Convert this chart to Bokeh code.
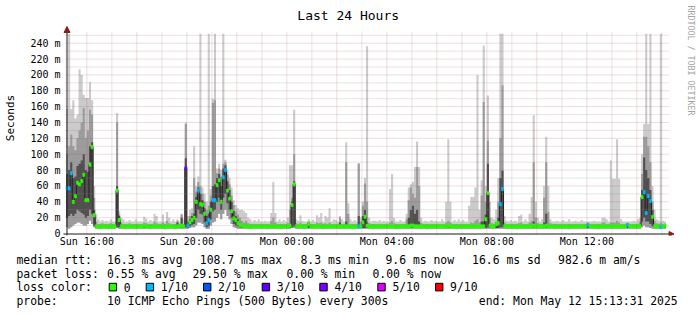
import numpy as np
import pandas as pd
from bokeh.plotting import figure
from bokeh.layouts import column, row
from bokeh.models import (Range1d, FixedTicker, DatetimeTickFormatter, CustomJSTickFormatter,
                          Label, ColumnDataSource, Arrow, NormalHead)
from bokeh.embed import file_html
from bokeh.resources import INLINE

# ---------------------------------------------------------------- data
# 5-minute steps, one row per hour (first row 15:10-15:55, last row 15:00-15:05)
FIRST_STEP = "2025-05-11 15:10:00"
STEP_MINUTES = 5
GRAPH_START = "2025-05-11 15:13:31"
GRAPH_END = "2025-05-12 15:13:31"

MEDIAN_MS = [
    [57, 57, 76, 40, 47, 64, 62, 66, 74, 42],
    [42, 87, 109, 23, 9, 9, 8, 9, 9, 9, 8, 9],
    [9, 9, 54, 17, 9, 9, 8, 9, 9, 9, 9, 8],
    [9, 9, 9, 10, 9, 9, 8, 9, 9, 9, 9, 9],
    [9, 8, 9, 9, 9, 9, 8, 9, 9, 10, 9, 82],
    [10, 14, 17, 20, 40, 54, 37, 36, 25, 13, 17, 30],
    [42, 42, 61, 67, 40, 71, 80, 54, 44, 28, 19, 17],
    [13, 11, 10, 9, 9, 9, 8, 9, 9, 9, 9, 9],
    [9, 9, 8, 9, 9, 9, 9, 9, 9, 8, 9, 9],
    [9, 10, 36, 62, 9, 9, 9, 9, 8, 9, 12, 9],
    [9, 9, 9, 9, 9, 8, 9, 9, 9, 9, 9, 9],
    [9, 9, 9, 9, 9, 9, 9, 8, 9, 9, 9, 9],
    [14, 21, 10, 9, 9, 8, 9, 9, 9, 9, 9, 9],
    [9, 9, 9, 9, 8, 9, 9, 9, 9, 9, 9, 10],
    [10, 9, 9, 9, 9, 9, 9, 8, 9, 9, 9, 9],
    [9, 9, 9, 9, 9, 10, 9, 9, 9, 8, 9, 9],
    [9, 9, 9, 9, 9, 9, 9, 9, 9, 9, 9, 18],
    [51, 10, 9, 9, 12, 13, 37, 56, 9, 9, 9, 9],
    [9, 9, 8, 9, 9, 9, 9, 9, 9, 9, 10, 9],
    [9, 9, 9, 9, 10, 9, 9, 9, 8, 9, 9, 9],
    [9, 9, 9, 8, 9, 9, 9, 9, 9, 9, 9, 9],
    [11, 9, 9, 9, 9, 8, 9, 9, 9, 9, 9, 9],
    [9, 9, 9, 9, 9, 9, 9, 11, 9, 9, 9, 9],
    [9, 9, 46, 52, 26, 47, 41, 21, 9, 9, 9, 8],
    [9, 10],
]

LOSS_OF_10 = [
    [1, 1, 1, 0, 0, 0, 0, 0, 0, 0],
    [0, 0, 0, 0, 0, 0, 0, 0, 0, 0, 0, 0],
    [0, 0, 0, 0, 0, 0, 0, 0, 0, 0, 0, 0],
    [0, 0, 0, 0, 0, 0, 0, 0, 0, 0, 0, 0],
    [0, 0, 0, 0, 0, 0, 0, 0, 0, 0, 0, 3],
    [1, 0, 0, 0, 0, 1, 0, 0, 0, 1, 1, 0],
    [1, 1, 0, 0, 0, 1, 1, 0, 0, 0, 0, 0],
    [0, 0, 0, 0, 0, 0, 0, 0, 0, 0, 0, 0],
    [0, 0, 0, 0, 0, 0, 0, 0, 0, 0, 0, 0],
    [0, 0, 0, 0, 0, 0, 0, 0, 0, 0, 0, 0],
    [0, 0, 0, 0, 0, 0, 0, 0, 0, 0, 0, 0],
    [0, 0, 0, 0, 0, 0, 0, 0, 0, 0, 1, 0],
    [0, 0, 0, 0, 0, 0, 0, 0, 0, 0, 0, 0],
    [0, 0, 0, 0, 0, 0, 0, 0, 0, 0, 0, 0],
    [0, 0, 0, 0, 0, 0, 0, 0, 0, 0, 0, 0],
    [0, 0, 0, 0, 0, 0, 0, 0, 0, 0, 0, 0],
    [0, 0, 0, 0, 0, 0, 0, 0, 0, 0, 0, 0],
    [0, 0, 0, 0, 0, 0, 1, 1, 0, 0, 0, 0],
    [0, 0, 0, 0, 0, 0, 0, 0, 0, 0, 0, 0],
    [0, 0, 0, 0, 0, 0, 0, 0, 0, 0, 0, 0],
    [0, 0, 0, 0, 0, 0, 0, 0, 0, 0, 0, 0],
    [1, 0, 0, 0, 0, 0, 0, 0, 0, 0, 0, 0],
    [0, 0, 0, 0, 0, 0, 0, 1, 0, 0, 0, 0],
    [0, 0, 0, 1, 1, 1, 1, 0, 0, 0, 0, 1],
    [0, 0],
]

SMOKE_MIN = [
    [8, 6, 8, 10, 12, 14, 14, 12, 10, 10],
    [12, 16, 12, 8, 6, 6, 6, 6, 6, 6, 6, 6],
    [6, 6, 7, 6, 6, 6, 6, 6, 6, 6, 6, 6],
    [6, 6, 6, 6, 6, 6, 6, 6, 6, 6, 6, 6],
    [6, 6, 6, 6, 6, 6, 6, 6, 6, 6, 6, 6],
    [6, 7, 8, 8, 10, 14, 14, 12, 8, 6, 6, 10],
    [14, 15, 20, 25, 18, 25, 30, 22, 18, 12, 8, 7],
    [6, 6, 6, 6, 6, 6, 6, 6, 6, 6, 6, 6],
    [6, 6, 6, 6, 6, 6, 6, 6, 6, 6, 6, 6],
    [6, 6, 7, 7, 6, 6, 6, 6, 6, 6, 6, 6],
    [6, 6, 6, 6, 6, 6, 6, 6, 6, 6, 6, 6],
    [6, 6, 6, 6, 6, 6, 6, 6, 6, 6, 6, 6],
    [6, 6, 6, 6, 6, 6, 6, 6, 6, 6, 6, 6],
    [6, 6, 6, 6, 6, 6, 6, 6, 6, 6, 6, 6],
    [6, 6, 6, 6, 6, 6, 6, 6, 6, 6, 6, 6],
    [6, 6, 6, 6, 6, 6, 6, 6, 6, 6, 6, 6],
    [6, 6, 6, 6, 6, 6, 6, 6, 6, 6, 6, 6],
    [6, 6, 6, 6, 6, 6, 6, 6, 6, 6, 6, 6],
    [6, 6, 6, 6, 6, 6, 6, 6, 6, 6, 6, 6],
    [6, 6, 6, 6, 6, 6, 6, 6, 6, 6, 6, 6],
    [6, 6, 6, 6, 6, 6, 6, 6, 6, 6, 6, 6],
    [6, 6, 6, 6, 6, 6, 6, 6, 6, 6, 6, 6],
    [6, 6, 6, 6, 6, 6, 6, 6, 6, 6, 6, 6],
    [6, 6, 8, 10, 8, 8, 7, 6, 6, 6, 6, 6],
    [6, 6],
]

DARK_LO = [
    [20, 22, 25, 22, 25, 30, 28, 26, 24, 20],
    [22, 30, 25, 10, 7, 7, 7, 7, 7, 7, 7, 7],
    [7, 7, 8, 8, 7, 7, 7, 7, 7, 7, 7, 7],
    [7, 7, 7, 7, 7, 7, 7, 7, 7, 7, 7, 7],
    [7, 7, 7, 7, 7, 7, 7, 7, 7, 7, 7, 8],
    [7, 9, 11, 12, 20, 30, 25, 24, 14, 8, 9, 18],
    [28, 30, 40, 45, 30, 45, 50, 38, 30, 20, 12, 10],
    [9, 8, 7, 7, 7, 7, 7, 7, 7, 7, 7, 7],
    [7, 7, 7, 7, 7, 7, 7, 7, 7, 7, 7, 7],
    [7, 7, 8, 9, 7, 7, 7, 7, 7, 7, 7, 7],
    [7, 7, 7, 7, 7, 7, 7, 7, 7, 7, 7, 7],
    [7, 7, 7, 7, 7, 7, 7, 7, 7, 7, 7, 7],
    [7, 7, 7, 7, 7, 7, 7, 7, 7, 7, 7, 7],
    [7, 7, 7, 7, 7, 7, 7, 7, 7, 7, 7, 7],
    [7, 7, 7, 7, 7, 7, 7, 7, 7, 7, 7, 7],
    [7, 7, 7, 7, 7, 7, 7, 7, 7, 7, 7, 7],
    [7, 7, 7, 7, 7, 7, 7, 7, 7, 7, 7, 7],
    [8, 7, 7, 7, 7, 7, 8, 8, 7, 7, 7, 7],
    [7, 7, 7, 7, 7, 7, 7, 7, 7, 7, 7, 7],
    [7, 7, 7, 7, 7, 7, 7, 7, 7, 7, 7, 7],
    [7, 7, 7, 7, 7, 7, 7, 7, 7, 7, 7, 7],
    [7, 7, 7, 7, 7, 7, 7, 7, 7, 7, 7, 7],
    [7, 7, 7, 7, 7, 7, 7, 7, 7, 7, 7, 7],
    [7, 7, 15, 20, 15, 15, 12, 9, 7, 7, 7, 7],
    [7, 7],
]

DARK_TOP = [
    [75, 80, 90, 70, 72, 85, 88, 92, 100, 80],
    [78, 110, 115, 30, 10, 10, 10, 10, 10, 10, 10, 10],
    [10, 10, 60, 22, 10, 10, 10, 10, 10, 10, 10, 10],
    [10, 10, 10, 10, 10, 10, 10, 10, 10, 10, 10, 10],
    [10, 10, 10, 10, 10, 10, 10, 14, 10, 20, 10, 95],
    [13, 18, 22, 25, 46, 58, 50, 42, 32, 22, 25, 40],
    [60, 62, 70, 75, 60, 82, 86, 66, 55, 40, 28, 22],
    [18, 14, 12, 11, 10, 10, 10, 10, 10, 10, 10, 10],
    [10, 10, 10, 10, 10, 10, 10, 10, 10, 10, 10, 10],
    [10, 12, 40, 66, 10, 10, 10, 10, 10, 10, 14, 10],
    [10, 10, 10, 10, 10, 10, 10, 10, 10, 10, 10, 10],
    [10, 14, 10, 10, 15, 10, 10, 10, 10, 10, 22, 10],
    [22, 30, 14, 10, 10, 10, 10, 10, 10, 10, 10, 10],
    [10, 10, 10, 10, 10, 10, 10, 10, 10, 10, 20, 30],
    [35, 25, 30, 15, 10, 10, 10, 10, 10, 10, 10, 10],
    [10, 10, 10, 10, 10, 10, 10, 10, 10, 10, 10, 10],
    [10, 10, 10, 10, 10, 10, 10, 10, 10, 15, 15, 24],
    [88, 12, 10, 10, 14, 20, 70, 79, 10, 10, 10, 10],
    [10, 10, 10, 10, 10, 10, 10, 10, 10, 10, 15, 10],
    [10, 10, 10, 14, 25, 10, 10, 10, 10, 10, 10, 10],
    [10, 10, 10, 10, 10, 10, 10, 10, 10, 10, 10, 10],
    [10, 10, 10, 10, 10, 10, 10, 10, 10, 10, 10, 10],
    [10, 10, 10, 10, 10, 10, 10, 10, 10, 10, 10, 10],
    [10, 10, 55, 96, 80, 70, 55, 30, 10, 10, 10, 10],
    [10, 10],
]

MID_TOP = [
    [100, 110, 125, 110, 105, 120, 130, 140, 158, 120],
    [130, 156, 150, 45, 15, 12, 12, 13, 12, 12, 12, 13],
    [12, 12, 140, 24, 14, 12, 12, 12, 13, 12, 12, 12],
    [12, 12, 12, 14, 13, 12, 12, 12, 15, 13, 12, 12],
    [14, 12, 16, 13, 12, 12, 12, 16, 12, 24, 12, 138],
    [16, 22, 26, 70, 52, 65, 60, 50, 40, 30, 35, 48],
    [165, 168, 76, 82, 72, 88, 90, 74, 62, 48, 36, 28],
    [24, 20, 16, 14, 16, 13, 12, 12, 12, 12, 12, 12],
    [12, 12, 12, 12, 16, 20, 14, 12, 12, 12, 12, 12],
    [13, 30, 45, 100, 13, 12, 14, 12, 12, 12, 15, 12],
    [12, 12, 14, 13, 14, 12, 13, 12, 14, 12, 12, 12],
    [12, 20, 12, 12, 90, 25, 12, 12, 12, 12, 88, 15],
    [35, 63, 40, 13, 12, 12, 12, 12, 12, 12, 12, 12],
    [12, 14, 16, 13, 12, 12, 12, 12, 12, 18, 42, 58],
    [50, 45, 84, 60, 13, 12, 12, 12, 12, 12, 12, 12],
    [12, 12, 12, 12, 14, 16, 14, 12, 12, 12, 12, 12],
    [12, 12, 12, 12, 14, 13, 16, 18, 14, 48, 166, 40],
    [117, 20, 13, 12, 15, 40, 120, 187, 14, 12, 12, 12],
    [12, 12, 12, 13, 14, 12, 12, 12, 14, 16, 90, 20],
    [13, 12, 12, 45, 90, 27, 13, 12, 12, 12, 12, 12],
    [12, 12, 12, 12, 12, 12, 12, 12, 12, 12, 12, 12],
    [12, 12, 12, 12, 12, 12, 12, 14, 14, 12, 12, 14],
    [14, 14, 16, 14, 12, 12, 12, 12, 12, 12, 12, 12],
    [12, 15, 75, 122, 122, 110, 90, 40, 16, 13, 12, 14],
    [12, 12],
]

SMOKE_MAX = [
    [157, 252, 157, 168, 145, 150, 207, 200, 175, 171],
    [171, 191, 168, 60, 25, 18, 15, 17, 15, 16, 15, 18],
    [15, 15, 152, 28, 20, 18, 15, 15, 17, 15, 15, 18],
    [15, 15, 15, 21, 19, 15, 17, 15, 25, 22, 15, 15],
    [24, 15, 27, 20, 15, 18, 15, 18, 15, 25, 18, 140],
    [22, 30, 32, 110, 60, 72, 252, 58, 50, 40, 252, 56],
    [170, 252, 82, 88, 80, 252, 93, 80, 70, 58, 42, 36],
    [32, 30, 30, 28, 26, 20, 18, 15, 17, 15, 18, 15],
    [15, 16, 15, 15, 26, 65, 26, 15, 18, 15, 17, 15],
    [20, 86, 86, 156, 18, 16, 23, 16, 15, 15, 18, 15],
    [17, 15, 23, 20, 26, 15, 22, 20, 32, 15, 18, 17],
    [15, 22, 18, 15, 115, 38, 18, 15, 17, 15, 89, 20],
    [40, 70, 236, 20, 15, 16, 16, 15, 17, 15, 16, 15],
    [15, 56, 75, 20, 15, 15, 17, 15, 15, 25, 58, 62],
    [65, 84, 116, 84, 20, 15, 16, 15, 15, 17, 15, 16],
    [15, 15, 18, 15, 40, 119, 40, 15, 17, 15, 18, 15],
    [17, 15, 15, 35, 46, 46, 58, 200, 30, 67, 237, 60],
    [174, 40, 20, 18, 30, 70, 252, 252, 22, 16, 15, 17],
    [15, 16, 15, 22, 24, 15, 18, 15, 25, 46, 149, 40],
    [20, 15, 18, 60, 122, 60, 18, 15, 15, 16, 15, 15],
    [17, 15, 15, 18, 15, 15, 16, 15, 15, 17, 15, 15],
    [15, 15, 15, 16, 15, 15, 15, 20, 20, 18, 15, 92],
    [69, 69, 119, 69, 18, 15, 15, 15, 15, 15, 16, 15],
    [18, 20, 100, 138, 252, 138, 252, 60, 30, 18, 16, 252],
    [16, 15],
]

X_TICK_TIMES = ["2025-05-11 16:00", "2025-05-11 20:00", "2025-05-12 00:00",
                "2025-05-12 04:00", "2025-05-12 08:00", "2025-05-12 12:00"]
Y_TICKS = [0, 20, 40, 60, 80, 100, 120, 140, 160, 180, 200, 220, 240]
Y_MINOR = [10, 30, 50, 70, 90, 110, 130, 150, 170, 190, 210, 230, 250]

LOSS_LEVELS = [0, 1, 2, 3, 4, 5, 9]
LOSS_LABELS = ["0", "1/10", "2/10", "3/10", "4/10", "5/10", "9/10"]
LOSS_COLORS = ["#26ff00", "#00b8ff", "#0059ff", "#5e00ff", "#7e00ff", "#dd00ff", "#ff0000"]

TITLE = "Last 24 Hours"
Y_LABEL = "Seconds"
WATERMARK = "RRDTOOL / TOBI OETIKER"
RTT_HEAD = "median rtt:"
RTT_STATS = ["16.3 ms avg", "108.7 ms max", "8.3 ms min", "9.6 ms now", "16.6 ms sd", "982.6 m am/s"]
LOSS_HEAD = "packet loss:"
LOSS_STATS = ["0.55 % avg", "29.50 % max", "0.00 % min", "0.00 % now"]
COLOR_HEAD = "loss color:"
PROBE_HEAD = "probe:"
PROBE_TEXT = "10 ICMP Echo Pings (500 Bytes) every 300s"
END_TEXT = "end: Mon May 12 15:13:31 2025"

# ---------------------------------------------------------------- layout constants
W, H = 697, 315
MAIN_H = 252                               # chart canvas height; legend block below
FL, FR, FT, FB = 62, 697, 0, 235           # main frame edges (canvas px)
AX_X, AX_Y = 67, 233                       # where time / value axes sit
PX_PER_MS_Y = 190.3 / 240.0                # vertical pixels per ms of rtt
MONO = "DejaVu Sans Mono"
LIGHT, MID, DARK, MEDLINE = "#cbcbcb", "#9c9c9c", "#505050", "#202020"
MGRID, GRID, AXIS, ARROW = "#b04848", "#8c8c8c", "#1a1a1a", "#8c1c1c"
SQ = 2.1                                    # half height of the loss-coloured median marker
TEXT_DY = 4.0                               # Label baseline correction (px)


def flat(rows):
    return [v for r in rows for v in r]


med, loss = flat(MEDIAN_MS), flat(LOSS_OF_10)
lo, dlo, dtop, mtop, hi = (flat(SMOKE_MIN), flat(DARK_LO), flat(DARK_TOP),
                           flat(MID_TOP), flat(SMOKE_MAX))
n = len(med)
assert all(len(a) == n for a in (loss, lo, dlo, dtop, mtop, hi)), "length mismatch"


def ms(ts):
    return pd.Timestamp(ts).value // 10**6


X0, X_END = ms(GRAPH_START), ms(GRAPH_END)
PX_PER_MS_X = 600.0 / (X_END - X0)


def cx(px):
    return X0 + (px - AX_X) / PX_PER_MS_X


def cy(py):
    return (AX_Y - py) / PX_PER_MS_Y


step_ms = STEP_MINUTES * 60 * 1000
edges = ms(FIRST_STEP) + step_ms * np.arange(n + 1)


def ext(a):
    return list(a) + [a[-1]]


smoke = ColumnDataSource(dict(x=edges, lo=ext(lo), hi=ext(hi), mtop=ext(mtop),
                              dlo=ext(dlo), dtop=ext(dtop), med=ext(med)))
color_of = dict(zip(LOSS_LEVELS, LOSS_COLORS))


def loss_color(l):
    return color_of[max(v for v in LOSS_LEVELS if v <= l)]


marks = ColumnDataSource(dict(
    left=edges[:-1], right=edges[1:],
    bottom=[m - SQ for m in med], top=[m + SQ for m in med],
    color=[loss_color(l) for l in loss]))

# ---------------------------------------------------------------- main chart
p = figure(width=W, height=MAIN_H, output_backend="svg", toolbar_location=None,
           x_axis_type="datetime",
           x_range=Range1d(cx(FL), cx(FR)), y_range=Range1d(cy(FB), cy(FT)),
           min_border_left=FL, min_border_right=W - FR, min_border_top=FT,
           min_border_bottom=MAIN_H - FB, background_fill_color="white",
           border_fill_color="white", outline_line_color=None)

p.varea_step(x="x", y1="lo", y2="hi", step_mode="after", fill_color=LIGHT, source=smoke)
p.varea_step(x="x", y1="lo", y2="mtop", step_mode="after", fill_color=MID, source=smoke)
p.varea_step(x="x", y1="dlo", y2="dtop", step_mode="after", fill_color=DARK, source=smoke)
p.step(x="x", y="med", mode="after", line_color=MEDLINE, line_width=1, source=smoke)
p.quad(left="left", right="right", bottom="bottom", top="top", fill_color="color",
       line_color="color", line_width=0.6, source=marks)

# grid, drawn over the smoke like rrdtool (lines run 2px past the axes)
hours = pd.date_range("2025-05-11 16:00", "2025-05-12 15:00", freq="h")
even_h = [ms(t) for t in hours[::2]]
odd_h = [ms(t) for t in hours[1::2]]
g_bot, g_top, g_left, g_right = cy(235), cy(31), cx(65), cx(669)
p.segment(x0=odd_h, x1=odd_h, y0=[g_bot] * len(odd_h), y1=[g_top] * len(odd_h),
          line_color=GRID, line_alpha=0.45, line_dash="1 1", line_width=1)
p.segment(x0=even_h, x1=even_h, y0=[g_bot] * len(even_h), y1=[g_top] * len(even_h),
          line_color=MGRID, line_alpha=0.38, line_dash="1 1", line_width=1)
p.segment(x0=[g_left] * len(Y_MINOR), x1=[g_right] * len(Y_MINOR), y0=Y_MINOR, y1=Y_MINOR,
          line_color=GRID, line_alpha=0.45, line_dash="1 1", line_width=1)
p.segment(x0=[g_left] * 12, x1=[g_right] * 12, y0=Y_TICKS[1:], y1=Y_TICKS[1:],
          line_color=MGRID, line_alpha=0.38, line_dash="1 1", line_width=1)
p.xgrid.visible = False
p.ygrid.visible = False

# axis lines and arrow heads
p.segment(x0=[cx(66.5)], x1=[cx(66.5)], y0=[cy(235)], y1=[cy(30)], line_color=AXIS, line_width=1)
p.segment(x0=[cx(63)], x1=[cx(669)], y0=[cy(233.5)], y1=[cy(233.5)], line_color=AXIS, line_width=1)
p.add_layout(Arrow(end=NormalHead(size=6, fill_color=ARROW, line_color=ARROW, line_width=1),
                   x_start=cx(66.5), y_start=cy(33), x_end=cx(66.5), y_end=cy(26), line_alpha=0))
p.add_layout(Arrow(end=NormalHead(size=5, fill_color=ARROW, line_color=ARROW, line_width=1),
                   x_start=cx(667), y_start=cy(233.5), x_end=cx(673.5), y_end=cy(233.5),
                   line_alpha=0))

# tick labels through Bokeh's own axes at the frame edges
p.xaxis.ticker = FixedTicker(ticks=[ms(t) for t in X_TICK_TIMES])
fmt = "%a %H:%M"
p.xaxis.formatter = DatetimeTickFormatter(microseconds=fmt, milliseconds=fmt, seconds=fmt,
                                          minsec=fmt, minutes=fmt, hourmin=fmt, hours=fmt,
                                          days=fmt, months=fmt, years=fmt)
p.yaxis.ticker = FixedTicker(ticks=Y_TICKS)
p.yaxis.formatter = CustomJSTickFormatter(code="return tick == 0 ? '0' : tick + ' m';")
for ax in (p.xaxis, p.yaxis):
    ax.axis_line_color = None
    ax.major_tick_line_color = None
    ax.major_tick_in = 0
    ax.major_tick_out = 0
    ax.minor_tick_line_color = None
    ax.minor_tick_out = 0
    ax.major_label_text_font = MONO
    ax.major_label_text_font_size = "10px"
    ax.major_label_text_color = "black"
p.xaxis.major_label_standoff = 0
p.yaxis.major_label_standoff = 2
p.yaxis.axis_label = Y_LABEL
p.yaxis.axis_label_text_font = MONO
p.yaxis.axis_label_text_font_size = "11px"
p.yaxis.axis_label_text_font_style = "normal"
p.yaxis.axis_label_text_color = "black"
p.yaxis.axis_label_standoff = 10

# title and watermark (inside the canvas area of the frame)
p.add_layout(Label(x=cx(347.7), y=cy(18.5 - TEXT_DY), text=TITLE, text_font=MONO,
                   text_font_size="13px", text_color="black", text_align="center",
                   text_baseline="alphabetic"))
p.add_layout(Label(x=cx(686 + TEXT_DY), y=cy(60), text=WATERMARK, text_font=MONO,
                   text_font_size="8.3px", text_color="#a4a4a4", text_align="center",
                   text_baseline="alphabetic", angle=-np.pi / 2))

# ---------------------------------------------------------------- legend block
lg = figure(width=W, height=H - MAIN_H, output_backend="svg", toolbar_location=None,
            x_range=Range1d(0, W), y_range=Range1d(H, MAIN_H),
            x_axis_location=None, y_axis_location=None, min_border=0,
            background_fill_color="white", border_fill_color="white", outline_line_color=None)
lg.grid.visible = False


def text(s, x, y, size=11.4):
    lg.add_layout(Label(x=x, y=y - TEXT_DY, text=s, text_font=MONO, text_font_size=f"{size}px",
                        text_color="black", text_align="left", text_baseline="alphabetic"))


TX = 16.0
text(RTT_HEAD, TX, 263.3)
for s, x in zip(RTT_STATS, [106.6, 199.3, 300.0, 385.0, 471.6, 557.6]):
    text(s, x, 263.3)
text(LOSS_HEAD, TX, 277.0)
for s, x in zip(LOSS_STATS, [106.6, 192.0, 286.0, 372.0]):
    text(s, x, 277.0)
text(COLOR_HEAD, TX, 290.7)
sw_left = [108.7, 145.7, 203.0, 261.7, 319.3, 377.3, 435.0]
lg.quad(left=sw_left, right=[x + 7.4 for x in sw_left], top=[282.8] * 7,
        bottom=[290.4] * 7, fill_color=LOSS_COLORS, line_color="black", line_width=1)
for s, x in zip(LOSS_LABELS, sw_left):
    text(s, x + 14.6, 290.7)
text(PROBE_HEAD, TX, 304.5)
text(PROBE_TEXT, 106.6, 304.5)
text(END_TEXT, 478.3, 304.5)

layout = column(row(p), lg, spacing=0)
open("out.html", "w").write(file_html(layout, INLINE))
